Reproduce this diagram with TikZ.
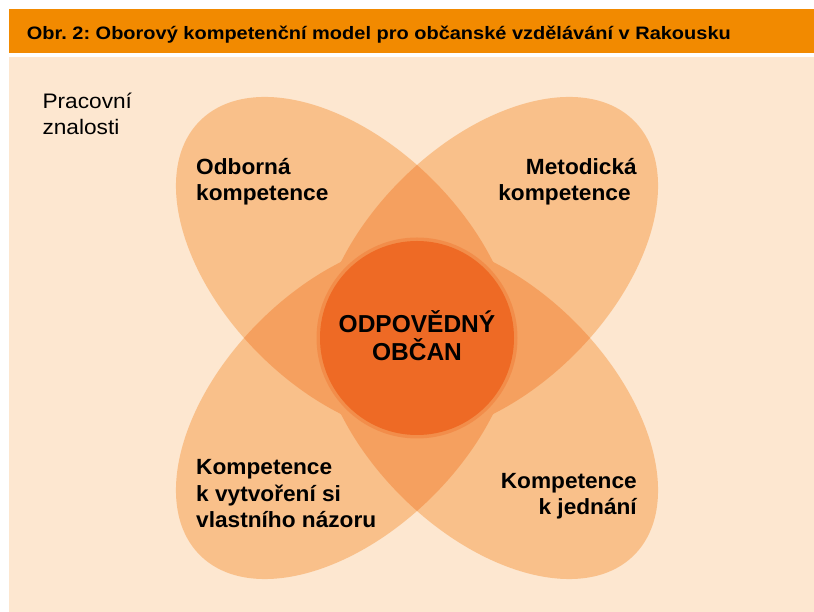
\documentclass[tikz,border=0pt]{standalone}
\usepackage{fontspec}
\setmainfont{Liberation Sans}
\frenchspacing
\definecolor{barc}{HTML}{F28A00}
\definecolor{bgc}{HTML}{FDE7D0}
\definecolor{petalc}{HTML}{F9C08A}
\definecolor{lensc}{HTML}{F5A05F}
\definecolor{circc}{HTML}{EE6A25}
\newcommand\petalTL[1]{\path[#1,rotate around={-45:(346pt,345pt)}] (346pt,345pt) ellipse [x radius=206.6pt, y radius=123pt];}
\newcommand\petalTR[1]{\path[#1,rotate around={45:(488pt,345pt)}] (488pt,345pt) ellipse [x radius=206.6pt, y radius=123pt];}
\newcommand\petalBL[1]{\path[#1,rotate around={45:(346pt,203pt)}] (346pt,203pt) ellipse [x radius=206.6pt, y radius=123pt];}
\newcommand\petalBR[1]{\path[#1,rotate around={-45:(488pt,203pt)}] (488pt,203pt) ellipse [x radius=206.6pt, y radius=123pt];}
\newcommand\lensof[2]{\begin{scope}#1{clip}#2{fill=lensc}\end{scope}}
\begin{document}
\begin{tikzpicture}[x=1pt,y=1pt,
  lbl/.style={inner sep=0pt,font=\fontsize{22}{26.5}\selectfont\bfseries},
  plain/.style={inner sep=0pt,font=\fontsize{21}{26}\selectfont}]
\useasboundingbox (0,0) rectangle (814,612);
\fill[white] (0,0) rectangle (814,612);
\fill[barc] (9,558.7) rectangle (814,602.7);
\fill[bgc] (9,0) rectangle (814,554.7);
\node[inner sep=0pt,anchor=base west,font=\fontsize{18}{20}\selectfont\bfseries] (title) at (26.7,572.7)
  {\scalebox{1.11}[1]{Obr. 2: Oborový kompetenční model pro občanské vzdělávání v Rakousku}};
% petals
\petalTL{fill=petalc}
\petalTR{fill=petalc}
\petalBL{fill=petalc}
\petalBR{fill=petalc}
\lensof{\petalTL}{\petalTR}
\lensof{\petalTR}{\petalBR}
\lensof{\petalBR}{\petalBL}
\lensof{\petalBL}{\petalTL}
\lensof{\petalTL}{\petalBR}
\lensof{\petalTR}{\petalBL}
% centre circle
\fill[circc,opacity=0.35] (417,274) circle (100.5);
\fill[circc] (417,274) circle (97);
% texts
\node[plain,anchor=base west,align=left,xscale=1.08,transform shape] (prac) at (42.3,477) {Pracovní\\znalosti};
\node[lbl,anchor=base west,align=left,xscale=1.03,transform shape] (odb) at (196,411) {Odborná\\kompetence};
\node[lbl,anchor=base east,align=right,xscale=1.03,transform shape] (met) at (637,411) {Metodická\\kompetence\hspace*{6pt}};
\node[lbl,anchor=base west,align=left,xscale=1.03,transform shape] (nazor) at (196,84) {Kompetence\\k vytvoření si\\vlastního názoru};
\node[lbl,anchor=base east,align=right,xscale=1.03,transform shape] (jedn) at (637,97) {Kompetence\\k jednání};
\node[lbl,anchor=base,align=center,font=\fontsize{24.5}{28.5}\selectfont\bfseries] (obcan) at (417,251) {ODPOVĚDNÝ\\OBČAN};
\end{tikzpicture}
\end{document}
